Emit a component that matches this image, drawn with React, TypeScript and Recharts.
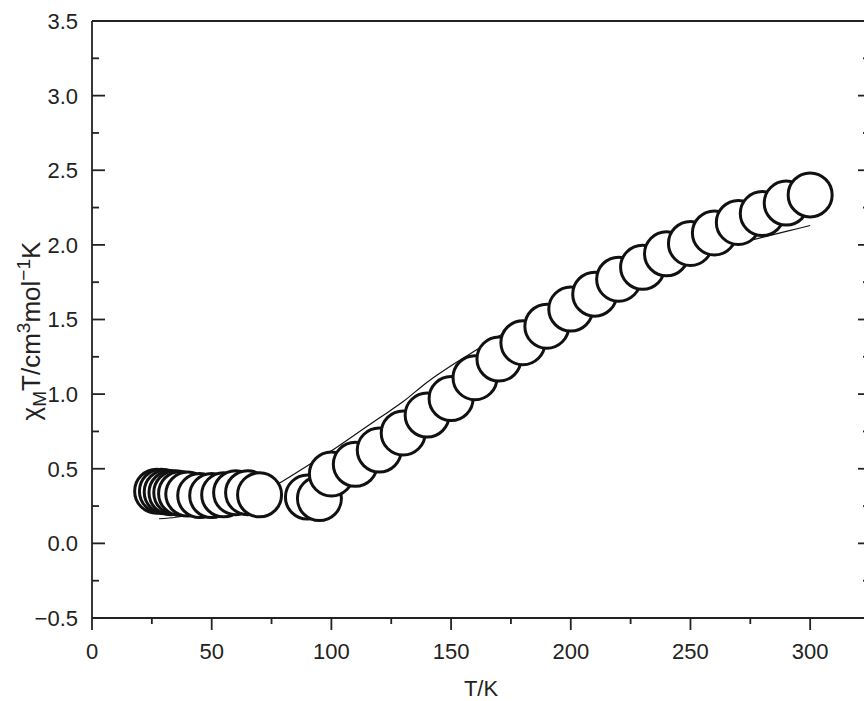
import { ComposedChart, Line, Scatter, XAxis, YAxis } from 'recharts';

// measured chi_M T (cm3 mol-1 K) against temperature (K)
const tempK = [
  27, 29, 31, 33, 35, 37, 40, 45, 50, 55, 60, 65, 70, 90, 95, 100, 110, 120, 130, 140, 150,
  160, 170, 180, 190, 200, 210, 220, 230, 240, 250, 260, 270, 280, 290, 300,
];
const chiT = [
  0.35, 0.35, 0.345, 0.34, 0.34, 0.335, 0.33, 0.32, 0.32, 0.325, 0.34, 0.34, 0.325, 0.31, 0.3,
  0.465, 0.53, 0.625, 0.74, 0.86, 0.97, 1.11, 1.235, 1.345, 1.455, 1.57, 1.67, 1.77, 1.85,
  1.94, 2.01, 2.08, 2.15, 2.21, 2.28, 2.335,
];

// fitted curve
const fitK = [
  28, 35, 40, 50, 60, 70, 80, 90, 100, 110, 120, 130, 140, 150, 160, 170, 180, 190, 200, 210,
  220, 230, 240, 250, 260, 270, 280, 290, 300,
];
const fitChiT = [
  0.165, 0.175, 0.19, 0.225, 0.27, 0.33, 0.42, 0.52, 0.62, 0.73, 0.84, 0.95, 1.08, 1.19, 1.29,
  1.39, 1.48, 1.57, 1.65, 1.72, 1.78, 1.84, 1.89, 1.93, 1.97, 2.01, 2.05, 2.09, 2.13,
];

const xTicks = [0, 25, 50, 75, 100, 125, 150, 175, 200, 225, 250, 275, 300, 325];
const yTicks = [
  -0.5, -0.25, 0, 0.25, 0.5, 0.75, 1, 1.25, 1.5, 1.75, 2, 2.25, 2.5, 2.75, 3, 3.25, 3.5,
];

const points = tempK.map((t, i) => ({ t, v: chiT[i] }));
const fit = fitK.map((t, i) => ({ t, v: fitChiT[i] }));

const ink = '#222';
const font = '"Liberation Sans", Arial, Helvetica, sans-serif';
const axisLine = { stroke: ink, strokeWidth: 1.8 };

const isMajorX = (v: number) => v % 50 === 0;
const isMajorY = (v: number) => Math.abs(v * 2 - Math.round(v * 2)) < 1e-6;
const fmtY = (v: number) => (v < 0 ? '\u2212' : '') + Math.abs(v).toFixed(1);

function BottomTick({ x, y, payload }: any) {
  const major = isMajorX(payload.value);
  return (
    <g>
      <line x1={x} x2={x} y1={y} y2={y + (major ? 12 : 6)} stroke={ink} strokeWidth={1.8} />
      {major && payload.value <= 300 && (
        <text x={x} y={y + 33} dy="0.36em" textAnchor="middle" fill={ink} fontSize={22} fontFamily={font}>
          {payload.value}
        </text>
      )}
    </g>
  );
}

function TopTick({ x, y, payload }: any) {
  const major = isMajorX(payload.value);
  return <line x1={x} x2={x} y1={y} y2={y + (major ? 12 : 7)} stroke={ink} strokeWidth={1.8} />;
}

function LeftTick({ x, y, payload }: any) {
  const major = isMajorY(payload.value);
  return (
    <g>
      <line x1={x} x2={x + (major ? 13 : 7)} y1={y} y2={y} stroke={ink} strokeWidth={1.8} />
      {major && (
        <text x={x - 14} y={y} dy="0.36em" textAnchor="end" fill={ink} fontSize={22} fontFamily={font}>
          {fmtY(payload.value)}
        </text>
      )}
    </g>
  );
}

function RightTick({ x, y, payload }: any) {
  const major = isMajorY(payload.value);
  return <line x1={x} x2={x - (major ? 12 : 7)} y1={y} y2={y} stroke={ink} strokeWidth={1.8} />;
}

function YTitle() {
  return (
    <text
      x={40}
      y={331}
      transform="rotate(-90, 40, 331)"
      textAnchor="middle"
      fill={ink}
      fontSize={26}
      fontFamily={font}
    >
      χ
      <tspan dy={6} fontSize={19}>M</tspan>
      <tspan dy={-6}>T/cm</tspan>
      <tspan dy={-10} fontSize={19}>3</tspan>
      <tspan dy={10}>mol</tspan>
      <tspan dy={-10} fontSize={19}>−1</tspan>
      <tspan dy={10}>K</tspan>
    </text>
  );
}

function XTitle() {
  return (
    <text x={481} y={696} textAnchor="middle" fill={ink} fontSize={22} fontFamily={font}>
      T/K
    </text>
  );
}

function Ring({ cx, cy }: any) {
  return <circle cx={cx} cy={cy} r={22} fill="#fff" stroke="#111" strokeWidth={3} />;
}

export default function App() {
  return (
    <>
      {/* the right frame lies just past the window edge, as in the original figure */}
      <style>{'html, body { overflow: hidden; background: #fff; }'}</style>
      <div style={{ position: 'absolute', left: 0, top: 0, width: 880, height: 701 }}>
        <ComposedChart width={880} height={701} margin={{ top: 11, right: 0, bottom: 0, left: 0 }}>
          <XAxis
            allowDataOverflow
            axisLine={axisLine}
            dataKey="t"
            domain={[0, 325]}
            height={83}
            interval={0}
            label={<XTitle />}
            tick={<BottomTick />}
            tickLine={false}
            tickMargin={0}
            tickSize={0}
            ticks={xTicks}
            type="number"
          />
          <XAxis
            allowDataOverflow
            axisLine={axisLine}
            domain={[0, 325]}
            height={10}
            interval={0}
            orientation="top"
            tick={<TopTick />}
            tickLine={false}
            tickMargin={0}
            tickSize={0}
            ticks={xTicks}
            type="number"
            xAxisId="top"
          />
          <YAxis
            allowDataOverflow
            axisLine={axisLine}
            domain={[-0.5, 3.5]}
            interval={0}
            label={<YTitle />}
            tick={<LeftTick />}
            tickLine={false}
            tickMargin={0}
            tickSize={0}
            ticks={yTicks}
            type="number"
            width={92}
          />
          <YAxis
            allowDataOverflow
            axisLine={axisLine}
            domain={[-0.5, 3.5]}
            interval={0}
            orientation="right"
            tick={<RightTick />}
            tickLine={false}
            tickMargin={0}
            tickSize={0}
            ticks={yTicks}
            type="number"
            width={10}
            yAxisId="right"
          />
          <Scatter data={points} dataKey="v" isAnimationActive={false} shape={<Ring />} />
          <Line
            data={fit}
            dataKey="v"
            dot={false}
            isAnimationActive={false}
            stroke="#111"
            strokeWidth={1.2}
            type="monotone"
          />
        </ComposedChart>
      </div>
    </>
  );
}
